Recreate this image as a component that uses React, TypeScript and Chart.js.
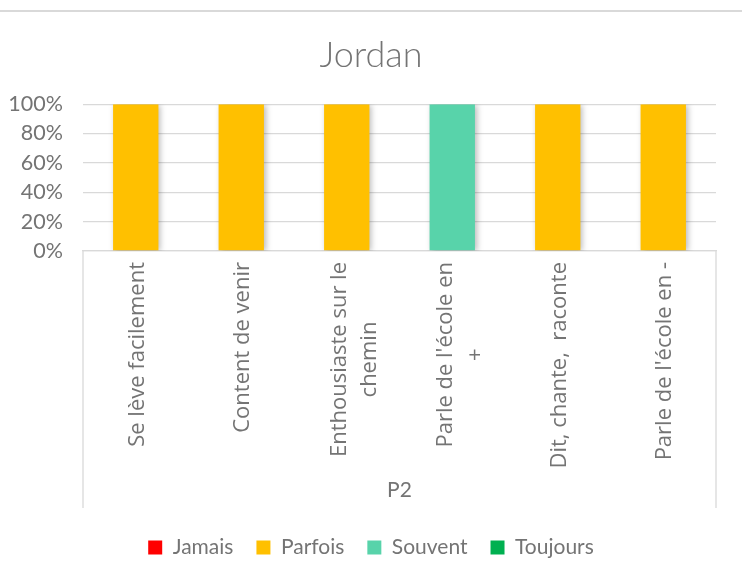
import React, { useEffect, useRef } from "react";
import { Chart, registerables } from "chart.js";

Chart.register(...registerables);

const chartTitle = "Jordan";
const groupLabel = "P2";
const categories: (string | string[])[] = [
  "Se lève facilement",
  "Content de venir",
  ["Enthousiaste sur le", "chemin"],
  ["Parle de l'école en", "+"],
  "Dit, chante,  raconte",
  "Parle de l'école en -",
];
const seriesNames = ["Jamais", "Parfois", "Souvent", "Toujours"];
const jamais = [0, 0, 0, 0, 0, 0];
const parfois = [100, 100, 100, 0, 100, 100];
const souvent = [0, 0, 0, 100, 0, 0];
const toujours = [0, 0, 0, 0, 0, 0];
const seriesColors = ["#FF0000", "#FFC000", "#58D3AA", "#00B050"];
const yTicks = [0, 20, 40, 60, 80, 100];

const TEXT = "#747474";
const GRID = "#d9d9d9";
const XFONT = '22px "Open Sans"';
const XLINE = 30;

const framePlugin = {
  id: "frame",
  afterLayout(chart: any) {
    if (chart.titleBlock) {
      chart.titleBlock.left = 0;
      chart.titleBlock.right = chart.width;
    }
    if (chart.legend) {
      chart.legend.left = 0;
      chart.legend.right = chart.width;
    }
  },
  beforeDraw(chart: any) {
    const { ctx } = chart;
    ctx.save();
    ctx.fillStyle = GRID;
    ctx.fillRect(0, 10, chart.width, 2);
    ctx.restore();
  },
  afterDraw(chart: any) {
    const { ctx, chartArea } = chart;
    const xs = chart.scales.x;
    const boxBottom = chartArea.bottom + 257;
    ctx.save();
    ctx.strokeStyle = GRID;
    ctx.lineWidth = 1.3;
    ctx.beginPath();
    ctx.moveTo(chartArea.left, chartArea.bottom);
    ctx.lineTo(chartArea.left, boxBottom);
    ctx.moveTo(chartArea.right, chartArea.bottom);
    ctx.lineTo(chartArea.right, boxBottom);
    ctx.stroke();

    // category labels, rotated, lines centred on each other
    ctx.font = XFONT;
    ctx.fillStyle = TEXT;
    ctx.textAlign = "center";
    ctx.textBaseline = "middle";
    const labels = chart.data.labels as (string | string[])[];
    labels.forEach((lab, i) => {
      const lines = Array.isArray(lab) ? lab : [lab];
      const maxW = Math.max(...lines.map((l) => ctx.measureText(l).width));
      const px = xs.getPixelForTick(i);
      const n = lines.length;
      const shift = n > 1 ? 8 : 1.5;
      ctx.save();
      ctx.translate(px, chartArea.bottom + 11);
      ctx.rotate(-Math.PI / 2);
      lines.forEach((l, j) => {
        const off = (j - (n - 1) / 2) * XLINE + shift;
        ctx.fillText(l, -maxW / 2, off);
      });
      ctx.restore();
    });
    ctx.restore();
  },
};

const shadowPlugin = {
  id: "barShadow",
  beforeDatasetsDraw(chart: any) {
    const ctx = chart.ctx;
    ctx.save();
    ctx.shadowColor = "rgba(0,0,0,0.28)";
    ctx.shadowBlur = 6;
    ctx.shadowOffsetX = 2;
    ctx.shadowOffsetY = 1;
  },
  afterDatasetsDraw(chart: any) {
    chart.ctx.restore();
  },
};

export default function App() {
  const ref = useRef<HTMLCanvasElement>(null);

  useEffect(() => {
    if (!ref.current) return;
    const values = [jamais, parfois, souvent, toujours];
    const chart = new Chart(ref.current, {
      type: "bar",
      data: {
        labels: categories,
        datasets: seriesNames.map((name, i) => ({
          label: name,
          data: values[i],
          backgroundColor: seriesColors[i],
          borderWidth: 0,
          categoryPercentage: 1,
          barPercentage: 0.43,
        })),
      },
      options: {
        responsive: false,
        animation: false,
        layout: { padding: { left: 0, right: 26, top: 0, bottom: 9 } },
        plugins: {
          title: {
            display: true,
            text: chartTitle,
            color: TEXT,
            font: { family: "Lato", size: 36, weight: "300" as any },
            padding: { top: 34, bottom: 27 },
          },
          legend: {
            position: "bottom",
            labels: {
              color: TEXT,
              font: { family: "Lato", size: 21 },
              boxWidth: 14,
              boxHeight: 14,
              padding: 23,
            },
          },
          tooltip: { enabled: false },
        },
        scales: {
          x: {
            stacked: true,
            grid: { display: false, drawTicks: false },
            border: { display: true, color: GRID, width: 1.3 },
            ticks: { display: false, autoSkip: false },
            title: {
              display: true,
              text: groupLabel,
              color: TEXT,
              font: { family: "Lato", size: 21 },
              padding: { top: 0, bottom: 11 },
            },
            afterFit: (s: any) => {
              s.height = 263;
            },
          },
          y: {
            stacked: true,
            min: 0,
            max: 100,
            afterBuildTicks: (s: any) => {
              s.ticks = yTicks.map((v) => ({ value: v }));
            },
            grid: { color: GRID, lineWidth: 1.3, drawTicks: false },
            border: { display: false },
            ticks: {
              color: TEXT,
              font: { family: "Lato", size: 21.5 },
              padding: 20,
              callback: (v: any) => v + "%",
            },
            afterFit: (s: any) => {
              s.width = 83;
            },
          },
        },
      },
      plugins: [framePlugin, shadowPlugin],
    });
    return () => chart.destroy();
  }, []);

  return (
    <div style={{ position: "fixed", left: 0, top: 0, width: 742, height: 577, background: "#fff" }}>
      <canvas ref={ref} width={742} height={577} style={{ display: "block" }} />
    </div>
  );
}
